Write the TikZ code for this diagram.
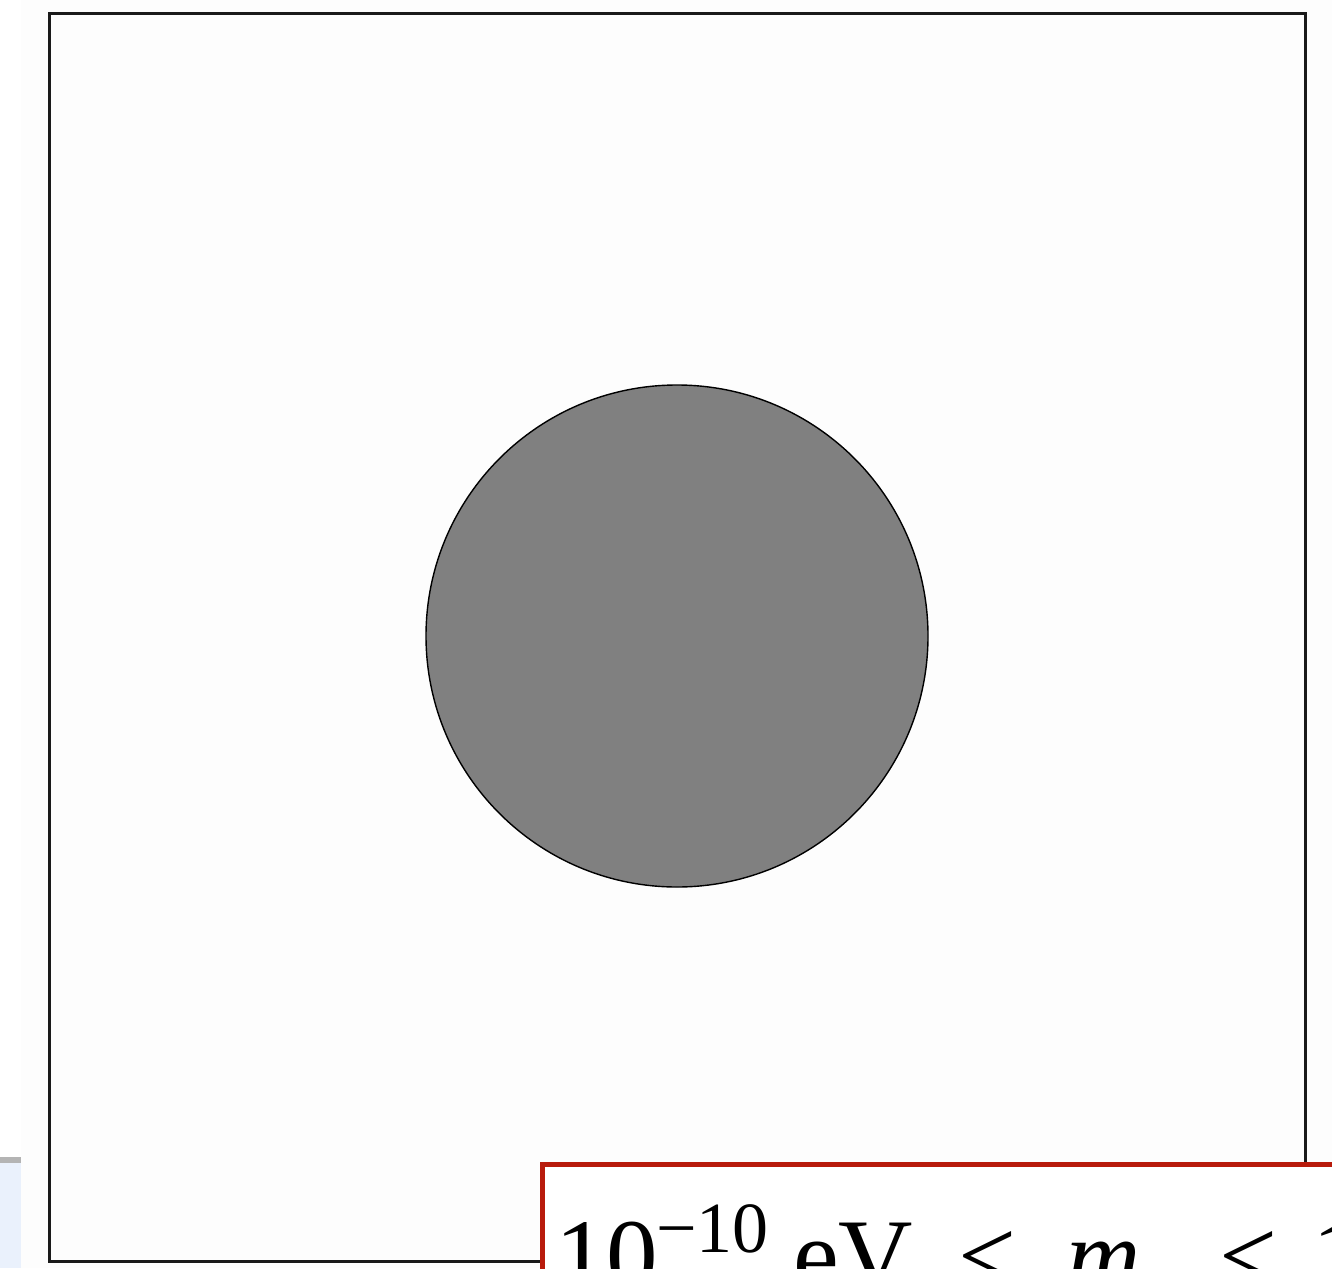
\documentclass[tikz,border=0pt]{standalone}
\usepackage{fontspec}
\setmainfont{Liberation Serif}
\definecolor{bgpage}{HTML}{FDFDFD}
\definecolor{sidebar}{HTML}{EAF1FC}
\definecolor{sidebarline}{HTML}{B4B4B4}
\definecolor{framecol}{HTML}{1A1A1A}
\definecolor{diskgray}{HTML}{808080}
\definecolor{redframe}{HTML}{B81B0C}
\tikzset{
  frame/.style={draw=framecol, line width=3pt},
  disk/.style={circle, draw=black, line width=1.4pt, fill=diskgray, minimum size=502pt, inner sep=0pt},
  labelbox/.style={draw=redframe, fill=white, line width=5pt},
  bigtxt/.style={anchor=base west, inner sep=0pt, font=\fontsize{103}{110}\selectfont},
  suptxt/.style={anchor=base west, inner sep=0pt, font=\fontsize{72}{80}\selectfont}
}
\begin{document}
\begin{tikzpicture}[x=1pt,y=-1pt]
\useasboundingbox (0,0) rectangle (1332,1268);
\clip (0,0) rectangle (1332,1268);
\fill[white] (0,0) rectangle (1332,1268);
\fill[bgpage] (21,0) rectangle (1332,1268);
\fill[sidebarline] (0,1157) rectangle (21,1163);
\fill[sidebar] (0,1163) rectangle (21,1268);
\draw[frame] (49.5,13.5) rectangle (1305.5,1261.5);
\node[disk] (ball) at (677,636) {};
\draw[labelbox] (542.5,1164.5) rectangle (1400,1320);
\node[bigtxt] (ten) at (555,1290) {10};
\node[suptxt] (exp) at (656,1252) {−10};
\node[bigtxt] (ev) at (793,1290) {eV};
\node[bigtxt] (lt1) at (958,1290) {<};
\node[bigtxt] (mass) at (1066,1290) {\itshape m};
\node[bigtxt] (lt2) at (1219,1290) {<};
\node[bigtxt] (one) at (1312,1290) {1};
\end{tikzpicture}
\end{document}
